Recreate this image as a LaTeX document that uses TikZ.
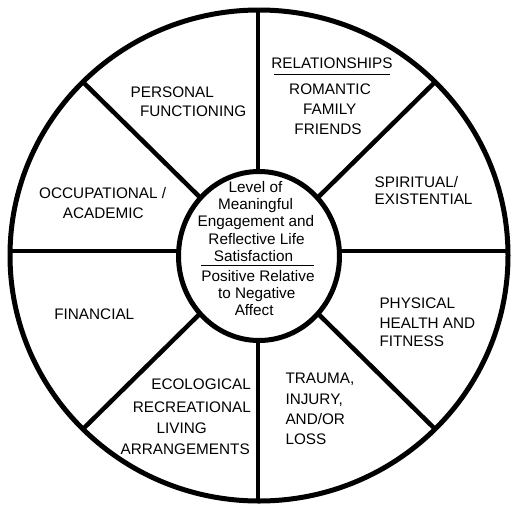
\documentclass[tikz,border=0pt]{standalone}
\usepackage{fontspec}
\setmainfont{Liberation Sans}
\begin{document}
\begin{tikzpicture}[x=1pt,y=-1pt,
  lbl/.style={inner sep=0pt, outer sep=0pt, font=\fontsize{15.3}{18}\selectfont},
  rim/.style={line width=5pt},
  spoke/.style={line width=4.5pt},
  rule/.style={line width=1.4pt}]
\useasboundingbox (0,0) rectangle (528,515);
\fill[white] (0,0) rectangle (528,515);
% spoke ends
\coordinate (top) at (258,8);
\coordinate (bot) at (258,503);
\coordinate (lft) at (9,251);
\coordinate (rgt) at (509,251);
\coordinate (ul) at (82.9,81.9);
\coordinate (ur) at (435.1,81.9);
\coordinate (ll) at (82.9,429.1);
\coordinate (lr) at (435.1,429.1);
\draw[spoke] (top) -- (bot);
\draw[spoke] (lft) -- (rgt);
\draw[spoke] (ul) -- (lr);
\draw[spoke] (ur) -- (ll);
% rims
\draw[rim] (259,255.5) ellipse [x radius=249, y radius=245.5];
\draw[rim, fill=white] (259,256) ellipse [x radius=80.5, y radius=84.5];
% centre text
\node[lbl, anchor=base] (c1) at (255.5,192.2) {Level of};
\node[lbl, anchor=base] (c2) at (255.5,209.5) {Meaningful};
\node[lbl, anchor=base] (c3) at (256,226.8) {Engagement and};
\node[lbl, anchor=base] (c4) at (256.5,244.1) {Reflective Life};
\node[lbl, anchor=base] (c5) at (253.5,261.4) {Satisfaction};
\coordinate (dl) at (201,265.3);
\coordinate (dr) at (314,265.3);
\draw[rule] (dl) -- (dr);
\node[lbl, anchor=base] (c6) at (258,281.5) {Positive Relative};
\node[lbl, anchor=base] (c7) at (256.7,298) {to Negative};
\node[lbl, anchor=base] (c8) at (254.2,315) {Affect};
% personal
\node[lbl, anchor=base west] (p1) at (130.6,97.1) {PERSONAL};
\node[lbl, anchor=base west] (p2) at (140,116.6) {FUNCTIONING};
% relationships
\node[lbl, anchor=base] (r0) at (331.9,68.5) {RELATIONSHIPS};
\coordinate (rl) at (274,74.3);
\coordinate (rr) at (390,74.3);
\draw[rule] (rl) -- (rr);
\node[lbl, anchor=base] (r1) at (330,94.8) {ROMANTIC};
\node[lbl, anchor=base] (r2) at (329.8,114.8) {FAMILY};
\node[lbl, anchor=base] (r3) at (328,134.8) {FRIENDS};
% spiritual
\node[lbl, anchor=base west] (s1) at (374.7,187.7) {SPIRITUAL/};
\node[lbl, anchor=base west] (s2) at (374.7,204.8) {EXISTENTIAL};
% occupational
\node[lbl, anchor=base] (o1) at (102.7,198.8) {OCCUPATIONAL /};
\node[lbl, anchor=base] (o2) at (103.2,218) {ACADEMIC};
% financial
\node[lbl, anchor=base] (f1) at (94.3,319.3) {FINANCIAL};
% physical
\node[lbl, anchor=base west] (h1) at (379.5,308.5) {PHYSICAL};
\node[lbl, anchor=base west] (h2) at (379.5,328.7) {HEALTH AND};
\node[lbl, anchor=base west] (h3) at (379.5,346.6) {FITNESS};
% trauma
\node[lbl, anchor=base west] (t1) at (285.5,383.5) {TRAUMA,};
\node[lbl, anchor=base west] (t2) at (285.5,404.5) {INJURY,};
\node[lbl, anchor=base west] (t3) at (285.5,424.5) {AND/OR};
\node[lbl, anchor=base west] (t4) at (285.5,444) {LOSS};
% ecological
\node[lbl, anchor=base east] (e1) at (250.8,389.3) {ECOLOGICAL};
\node[lbl, anchor=base east] (e2) at (250.8,412.2) {RECREATIONAL};
\node[lbl, anchor=base] (e3) at (181.8,433.1) {LIVING};
\node[lbl, anchor=base east] (e4) at (249.8,454.3) {ARRANGEMENTS};
\end{tikzpicture}
\end{document}
